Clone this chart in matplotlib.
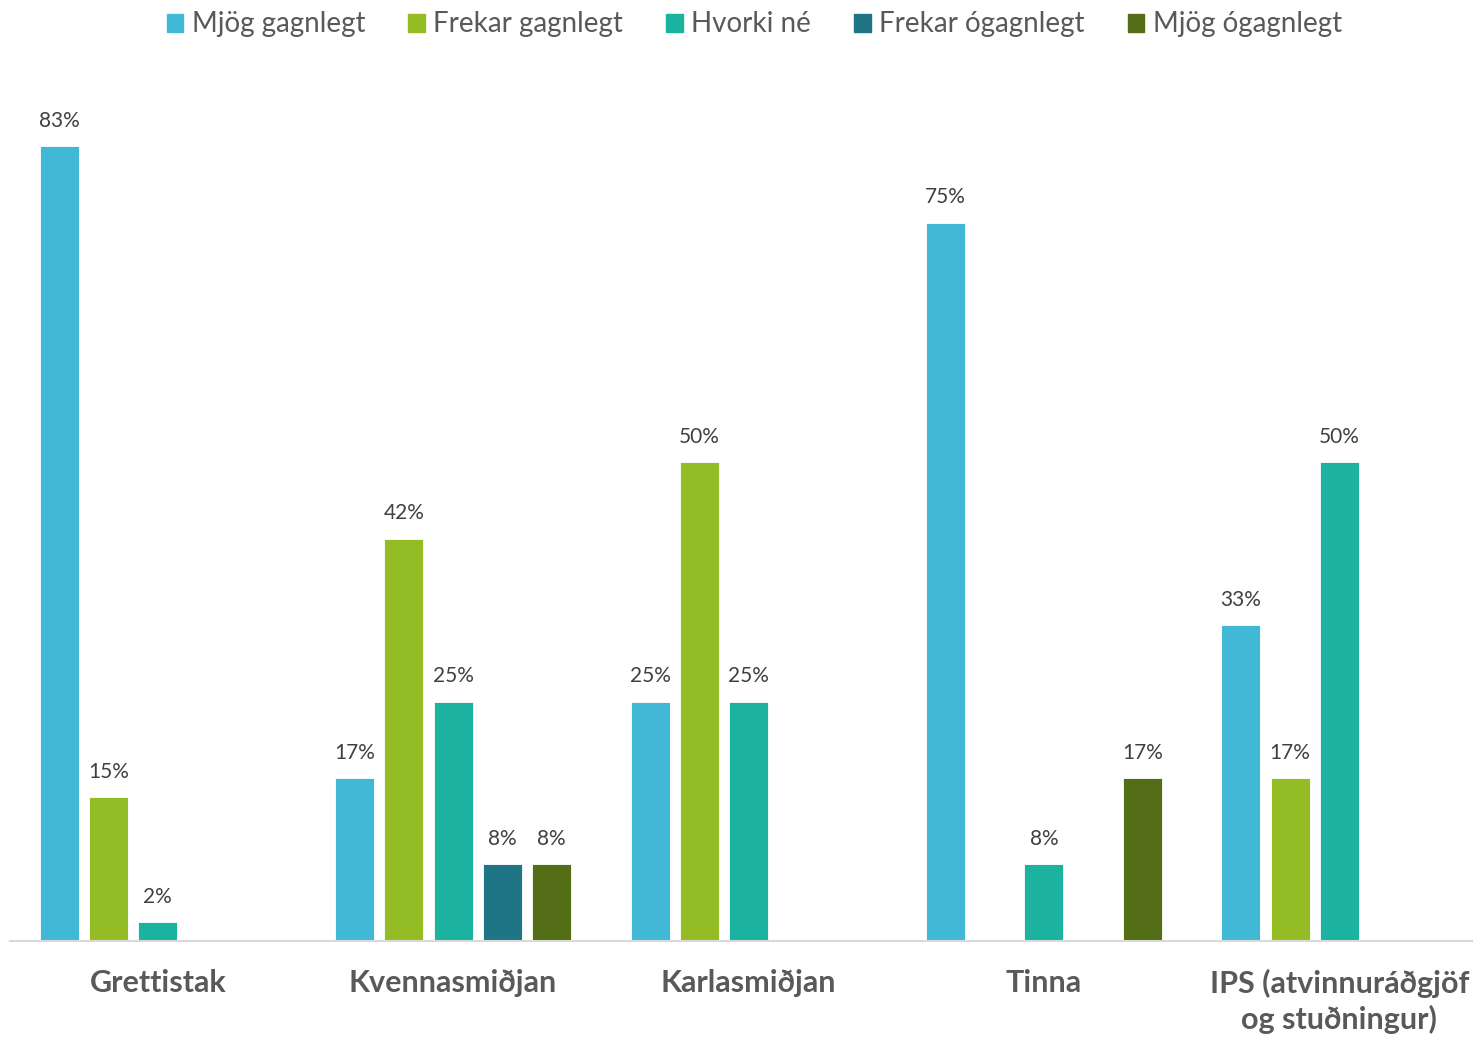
import numpy as np
import matplotlib.pyplot as plt
from matplotlib.patches import Patch

categories = ["Grettistak", "Kvennasmiðjan", "Karlasmiðjan", "Tinna",
              "IPS (atvinnuráðgjöf\nog stuðningur)"]
series_names = ["Mjög gagnlegt", "Frekar gagnlegt", "Hvorki né",
                "Frekar ógagnlegt", "Mjög ógagnlegt"]
mjog_gagnlegt = [83, 17, 25, 75, 33]
frekar_gagnlegt = [15, 42, 50, 0, 17]
hvorki_ne = [2, 25, 25, 8, 50]
frekar_ogagnlegt = [0, 8, 0, 0, 0]
mjog_ogagnlegt = [0, 8, 0, 17, 0]
colors = ["#41B8D5", "#93BC25", "#1BB29F", "#1F7585", "#546E17"]

series = [mjog_gagnlegt, frekar_gagnlegt, hvorki_ne,
          frekar_ogagnlegt, mjog_ogagnlegt]

plt.rcParams['font.family'] = ['Lato', 'DejaVu Sans']
text_color = "#595959"

fig = plt.figure(figsize=(14.73, 10.4), dpi=100)
# axes runs a bit past the right edge, like the original
ax = fig.add_axes([10 / 1473, 99 / 1040, 1477 / 1473, 862 / 1040])

x = np.arange(len(categories))
step = 0.1667
width = 0.132
for i, (vals, name, col) in enumerate(zip(series, series_names, colors)):
    bars = ax.bar(x + (i - 2) * step, vals, width, color=col, label=name,
                  edgecolor="white", linewidth=0.6)
    labels = [f"{v}%" if v > 0 else "" for v in vals]
    ax.bar_label(bars, labels=labels, padding=11, fontsize=15,
                 color="#404040")

ax.set_xlim(-0.5, 4.5)
ax.set_ylim(0, 90)
ax.set_yticks([])
ax.set_xticks(x)
ax.set_xticklabels(categories, fontsize=22, fontweight="bold",
                   color=text_color, linespacing=1.3)
ax.tick_params(axis="x", length=0, pad=20)
for s in ["top", "right", "left"]:
    ax.spines[s].set_visible(False)
ax.spines["bottom"].set_color("#D9D9D9")
ax.spines["bottom"].set_linewidth(1.5)

handles = [Patch(color=c, label=n) for c, n in zip(colors, series_names)]
fig.legend(handles=handles, loc="upper center", bbox_to_anchor=(0.512, 1.013),
           ncol=5, frameon=False, fontsize=20, labelcolor=text_color,
           handlelength=0.6, handleheight=0.6, handletextpad=0.3,
           columnspacing=1.55)

fig.savefig("out.png", dpi=100)
